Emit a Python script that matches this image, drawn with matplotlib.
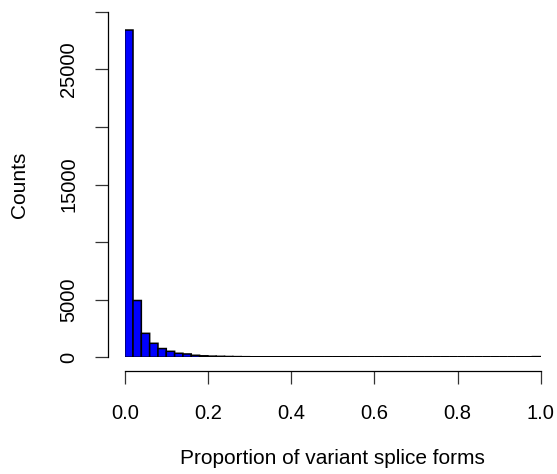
import numpy as np
import matplotlib.pyplot as plt

plt.rcParams['font.family'] = ['Liberation Sans', 'DejaVu Sans']

# histogram of proportions, 50 bins of width 0.02
bin_edges = np.linspace(0, 1, 51)
counts = [28410, 4930, 2080, 1215, 760, 520, 350, 290, 175, 130,
          100, 85, 70, 60, 52, 45, 40, 36, 32, 30,
          28, 26, 24, 22, 21, 20, 19, 18, 17, 16,
          15, 15, 14, 14, 13, 13, 12, 12, 12, 11,
          11, 11, 10, 10, 10, 10, 11, 12, 15, 60]

y_ticks = [0, 5000, 10000, 15000, 20000, 25000, 30000]
y_labels = ["0", "5000", "", "15000", "", "25000", ""]
x_ticks = [0.0, 0.2, 0.4, 0.6, 0.8, 1.0]
x_labels = ["0.0", "0.2", "0.4", "0.6", "0.8", "1.0"]

W, H = 557, 474
fig = plt.figure(figsize=(W / 100, H / 100), dpi=100)
# data area in pixels: x 124.7..540.7, y (from top) 11.7..357.3
ax = fig.add_axes([124.7 / W, (H - 357.3) / H, 416 / W, 345.6 / H])

ax.bar(bin_edges[:-1], counts, width=np.diff(bin_edges), align='edge',
       color='#0000ff', edgecolor='black', linewidth=1.1, snap=False)

ax.set_xlim(0, 1)
ax.set_ylim(0, 30000)

for s in ['top', 'right']:
    ax.spines[s].set_visible(False)
ax.spines['left'].set_position(('outward', 12))
ax.spines['bottom'].set_position(('outward', 10))
ax.spines['left'].set_bounds(0, 30000)
ax.spines['bottom'].set_bounds(0, 1)
for s in ['left', 'bottom']:
    ax.spines[s].set_linewidth(0.9)

ax.set_yticks(y_ticks)
ax.set_yticklabels(y_labels, rotation=90, va='center')
ax.set_xticks(x_ticks)
ax.set_xticklabels(x_labels)
ax.tick_params(axis='both', length=9.4, width=0.9, labelsize=14.5,
               color='#333333')
ax.tick_params(axis='y', pad=12)
ax.tick_params(axis='x', pad=14)

ax.set_ylabel("Counts", fontsize=15, va='center')
ax.yaxis.set_label_coords((20 - 124.7) / 416, 0.5)
ax.set_xlabel("Proportion of variant splice forms", fontsize=15, va='center')
ax.xaxis.set_label_coords(0.5, (16 - 116.7) / 345.6)

fig.savefig("out.png", dpi=100)
